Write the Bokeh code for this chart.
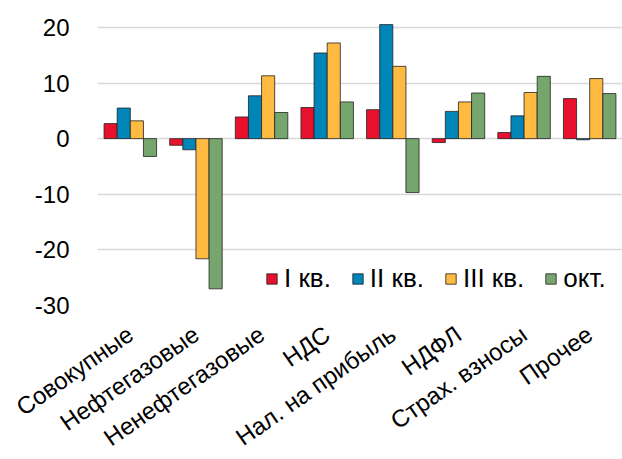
import math
from bokeh.plotting import figure
from bokeh.models import ColumnDataSource, Legend, LegendItem, Range1d, FixedTicker, PrintfTickFormatter
from bokeh.transform import dodge
from bokeh.embed import file_html
from bokeh.resources import INLINE

categories = ["Совокупные", "Нефтегазовые", "Ненефтегазовые", "НДС",
              "Нал. на прибыль", "НДФЛ", "Страх. взносы", "Прочее"]
q1 = [2.7, -1.2, 3.9, 5.6, 5.2, -0.7, 1.1, 7.2]
q2 = [5.5, -2.0, 7.7, 15.4, 20.5, 4.9, 4.1, -0.2]
q3 = [3.2, -21.6, 11.3, 17.2, 13.0, 6.6, 8.3, 10.8]
octv = [-3.2, -27.0, 4.7, 6.6, -9.7, 8.2, 11.2, 8.1]
series_names = ["I кв.", "II кв.", "III кв.", "окт."]
colors = ["#E8112D", "#0085B8", "#FFBA42", "#76A66E"]
y_ticks = [-30, -20, -10, 0, 10, 20]

src = ColumnDataSource(dict(cat=categories, q1=q1, q2=q2, q3=q3, okt=octv))

p = figure(x_range=categories, y_range=Range1d(-30, 21.6),
           frame_width=525, frame_height=287,
           output_backend="svg", toolbar_location=None,
           min_border_left=97, min_border_right=0, min_border_top=18, min_border_bottom=0)
p.outline_line_color = None
p.background_fill_color = "white"
p.border_fill_color = "white"

fields = ["q1", "q2", "q3", "okt"]
offsets = [-0.3, -0.1, 0.1, 0.3]
renderers = []
for f, off, c in zip(fields, offsets, colors):
    r = p.vbar(x=dodge("cat", off, range=p.x_range), top=f, bottom=0, width=0.2,
               source=src, fill_color=c, line_color="#222222", line_width=0.8)
    renderers.append(r)

p.xgrid.grid_line_color = None
p.ygrid.grid_line_color = "#D9D9D9"
p.ygrid.grid_line_width = 1.5
p.yaxis.ticker = FixedTicker(ticks=y_ticks)
p.yaxis.formatter = PrintfTickFormatter(format="%d")
for ax in (p.xaxis[0], p.yaxis[0]):
    ax.axis_line_color = None
    ax.major_tick_line_color = None
    ax.minor_tick_line_color = None
    ax.major_label_text_font = "Liberation Sans"
    ax.major_label_text_color = "#000000"
p.yaxis.major_label_text_font_size = "24px"
p.yaxis.major_label_standoff = 22
p.xaxis.major_label_text_font_size = "24px"
p.xaxis.major_label_orientation = math.radians(35)
p.xaxis.major_label_standoff = 20

legend = Legend(items=[LegendItem(label=n, renderers=[r]) for n, r in zip(series_names, renderers)],
                orientation="horizontal", location=(168, 11),
                label_text_font="Liberation Sans", label_text_font_size="26px",
                label_text_color="#000000",
                glyph_width=13, glyph_height=13, label_standoff=6, spacing=20,
                padding=0, margin=0,
                background_fill_alpha=0, border_line_color=None)
p.add_layout(legend)

open("out.html", "w").write(file_html(p, INLINE))
